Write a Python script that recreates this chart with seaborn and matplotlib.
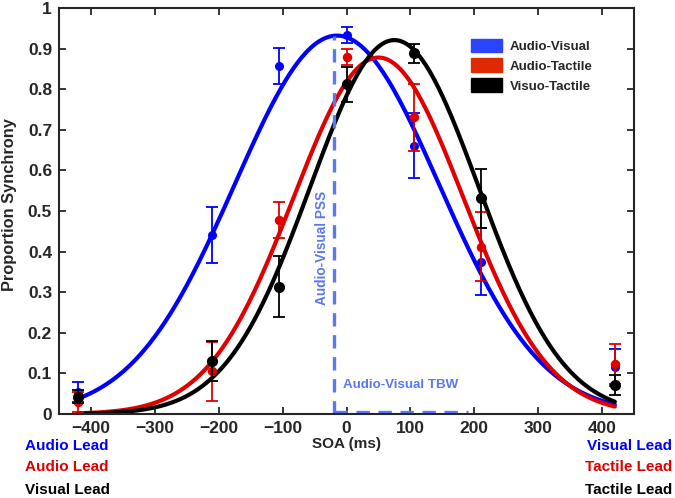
import numpy as np
import matplotlib
matplotlib.use("Agg")
import matplotlib.pyplot as plt
import matplotlib.patches as mpatches
import pandas as pd
import seaborn as sns

# %%
# data
soa = [-420, -210, -105, 0, 105, 210, 420]

av_mean = [0.055, 0.441, 0.857, 0.933, 0.661, 0.375, 0.115]
av_err = [0.025, 0.07, 0.045, 0.02, 0.08, 0.083, 0.045]
at_mean = [0.030, 0.105, 0.478, 0.880, 0.731, 0.412, 0.123]
at_err = [0.025, 0.072, 0.045, 0.02, 0.082, 0.085, 0.05]
vt_mean = [0.043, 0.131, 0.314, 0.812, 0.888, 0.531, 0.071]
vt_err = [0.015, 0.05, 0.075, 0.043, 0.024, 0.072, 0.025]

# gaussian fit parameters (amplitude, centre, width) per condition
fit_amp = [0.932, 0.878, 0.921]
fit_mu = [-15, 50, 75]
fit_sd = [160, 133, 132]

conditions = ["Audio-Visual", "Audio-Tactile", "Visuo-Tactile"]
line_colors = ["#0000ff", "#e00000", "#000000"]
patch_colors = ["#2a44ff", "#dd2a00", "#000000"]

pss = -19
tbw_end = 190
y_ticks = [0, 0.1, 0.2, 0.3, 0.4, 0.5, 0.6, 0.7, 0.8, 0.9, 1]
y_tick_labels = ["0", "0.1", "0.2", "0.3", "0.4", "0.5", "0.6", "0.7", "0.8", "0.9", "1"]
x_ticks = [-400, -300, -200, -100, 0, 100, 200, 300, 400]

# %%
sns.set_style("ticks")
plt.rcParams['font.family'] = ['Liberation Sans', 'DejaVu Sans']
plt.rcParams['font.weight'] = 'bold'

fig = plt.figure(figsize=(6.75, 4.98), dpi=100)
ax = fig.add_axes([59/675, 1-414/498, (634-59)/675, (414-8)/498])

xs = np.linspace(soa[0], soa[-1], 400)
curves = []
for name, a, m, s in zip(conditions, fit_amp, fit_mu, fit_sd):
    curves.append(pd.DataFrame({"SOA": xs, "p": a*np.exp(-(xs-m)**2/(2*s**2)), "cond": name}))
curves = pd.concat(curves)

points = [(av_mean, av_err, 5.5), (at_mean, at_err, 5.8), (vt_mean, vt_err, 7)]
for i, name in enumerate(conditions):
    sns.lineplot(data=curves[curves["cond"] == name], x="SOA", y="p", color=line_colors[i],
                 lw=3.0, ax=ax, legend=False)
    mean, err, ms = points[i]
    ax.errorbar(soa, mean, yerr=err, fmt='o', color=line_colors[i], ms=ms,
                capsize=4, elinewidth=1.3, capthick=1.3, zorder=3+i)

# PSS / TBW guide lines
dash_col = "#5a78f0"
ax.plot([pss, pss], [0, fit_amp[0]], color=dash_col, lw=2.4, dashes=(4, 2.6), zorder=2)
ax.plot([pss, tbw_end], [0.006, 0.006], color=dash_col, lw=2.4, dashes=(4, 2.6), zorder=2)
ax.text(-38, 0.41, "Audio-Visual PSS", rotation=90, color=dash_col, fontsize=9.8,
        fontweight='bold', ha='center', va='center')
ax.text(-5, 0.071, "Audio-Visual TBW", color=dash_col, fontsize=9.6,
        fontweight='bold', ha='left', va='center')

ax.set_xlim(-450, 450)
ax.set_ylim(0, 1)
ax.set_xticks(x_ticks)
ax.set_yticks(y_ticks)
ax.set_yticklabels(y_tick_labels)
ax.tick_params(direction='in', length=5, width=1.3, top=True, right=True,
               labelsize=12.5, pad=5)
for lab in ax.get_xticklabels() + ax.get_yticklabels():
    lab.set_fontweight('bold')
for sp in ax.spines.values():
    sp.set_linewidth(1.5)
    sp.set_visible(True)
ax.set_xlabel("SOA (ms)", fontsize=11, fontweight='bold', labelpad=1)
ax.set_ylabel("")
fig.text(10/675, 1-205/498, "Proportion Synchrony", rotation=90, fontsize=11.8,
         fontweight='bold', ha='center', va='center')

handles = [mpatches.Patch(color=c, label=l) for c, l in zip(patch_colors, conditions)]
ax.legend(handles=handles, loc='upper left', bbox_to_anchor=(464/675, 1-32/498),
          bbox_transform=fig.transFigure, frameon=False, borderpad=0,
          handlelength=2.35, handleheight=1.2, handletextpad=0.6, labelspacing=0.43,
          prop={'weight': 'bold', 'size': 9.5})

# lead labels under the axis
left_labels = ["Audio Lead", "Audio Lead", "Visual Lead"]
right_labels = ["Visual Lead", "Tactile Lead", "Tactile Lead"]
rows_y = [446, 467, 489.5]
for lab_l, lab_r, yy, c in zip(left_labels, right_labels, rows_y, line_colors):
    fig.text(25/675, 1-yy/498, lab_l, color=c, fontsize=11, fontweight='bold', va='center', ha='left')
    fig.text(672/675, 1-yy/498, lab_r, color=c, fontsize=11, fontweight='bold', va='center', ha='right')

plt.savefig("out.png", dpi=100)
